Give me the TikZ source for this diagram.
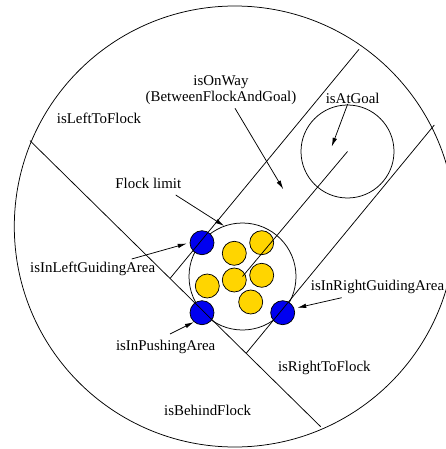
\documentclass[tikz,border=0pt]{standalone}
\usepackage{fontspec}
\setmainfont{Liberation Serif}
\usetikzlibrary{arrows.meta}
\definecolor{sheepyellow}{RGB}{255,213,0}
\definecolor{dogblue}{RGB}{0,0,240}
\begin{document}
\begin{tikzpicture}[x=1pt,y=-1pt,line width=0.75pt,
  zone/.style={circle,draw,inner sep=0pt},
  dog/.style={circle,draw,fill=dogblue,minimum size=24pt,inner sep=0pt},
  sheep/.style={circle,draw,fill=sheepyellow,minimum size=24pt,inner sep=0pt},
  lbl/.style={font=\fontsize{14.9}{16.6}\selectfont,inner sep=0pt,align=center},
  pointer/.style={-{Latex[length=9pt,width=4.5pt]}}]
\useasboundingbox (0,0) rectangle (446,449);

% perception range, flock and goal
\node[zone,minimum size=441pt] (range) at (234.8,226.5) {};
\node[zone,minimum size=107pt] (flock) at (242.5,276.5) {};
\node[zone,minimum size=93pt] (goal) at (347.5,151.5) {};

% sheep
\node[sheep] (s1) at (234.3,253.3) {};
\node[sheep] (s2) at (261.7,242.7) {};
\node[sheep] (s3) at (207.3,286) {};
\node[sheep] (s4) at (234.3,280) {};
\node[sheep] (s5) at (261.7,275.3) {};
\node[sheep] (s6) at (250.7,302) {};

% dogs
\node[dog] (dl) at (202,242.7) {};
\node[dog] (dp) at (202,312.7) {};
\node[dog] (dr) at (282.7,312.7) {};

% area borders
\coordinate (behindA) at (30,140.7);
\coordinate (behindB) at (320.7,426.7);
\coordinate (leftA) at (170,278.5);
\coordinate (leftB) at (359,49.3);
\coordinate (rightA) at (246,353.5);
\coordinate (rightB) at (434.3,125);
\draw (behindA) -- (behindB);
\draw (leftA) -- (leftB);
\draw (rightA) -- (rightB);
\draw (flock.center) -- (goal.center);

% labels
\node[lbl] (onway) at (221,90) {isOnWay\\(BetweenFlockAndGoal)};
\node[lbl] (atgoal) at (352.7,98) {isAtGoal};
\node[lbl] (lefttf) at (99,118.5) {isLeftToFlock};
\node[lbl] (limit) at (148.3,183.5) {Flock limit};
\node[lbl] (leftga) at (92.7,269) {isInLeftGuidingArea};
\node[lbl] (rightga) at (377.5,287) {isInRightGuidingArea};
\node[lbl] (pushing) at (165.7,346.5) {isInPushingArea};
\node[lbl] (righttf) at (324.3,368) {isRightToFlock};
\node[lbl] (behind) at (207.7,410.5) {isBehindFlock};

% pointers
\coordinate (onwayEnd) at (283.3,189.3);
\coordinate (goalEnd) at (331.7,146.7);
\draw[pointer] (235,108.3) -- (onwayEnd);
\draw[pointer] (347.7,104) -- (goalEnd);
\draw[pointer] (175.7,195) -- (flock.110);
\draw[pointer,shorten >=3pt] (131.7,259) -- (dl.west);
\draw[pointer] (170,334) -- (dp.229);
\draw[pointer,shorten >=3pt] (341.7,297.7) -- (dr.20);
\end{tikzpicture}
\end{document}
